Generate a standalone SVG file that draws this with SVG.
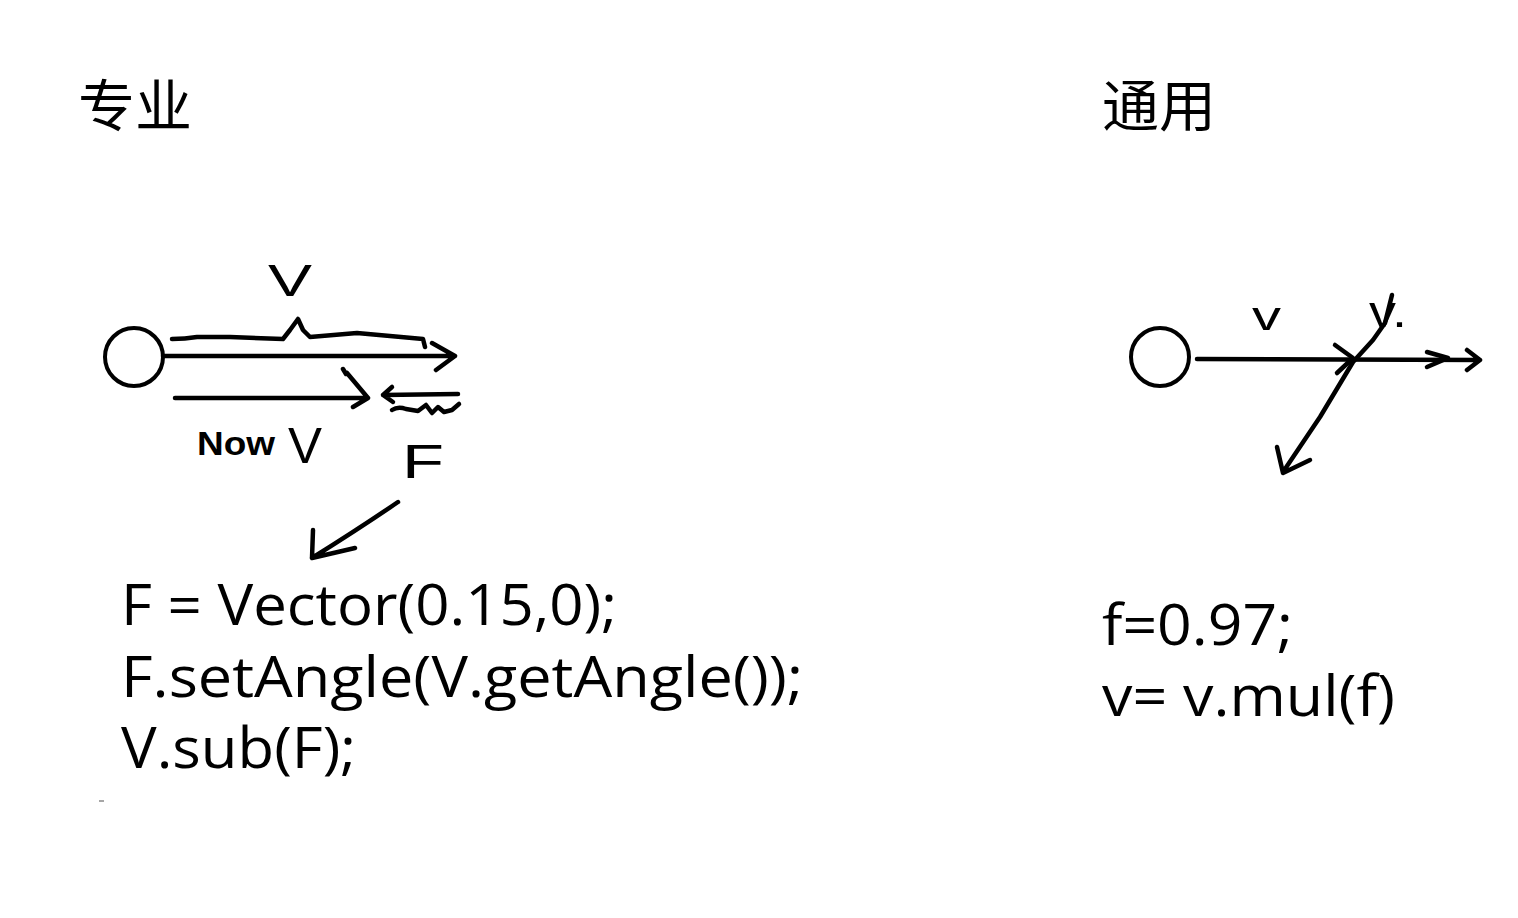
<svg xmlns="http://www.w3.org/2000/svg" width="1518" height="918" viewBox="0 0 1518 918">
<style>
.ink{fill:none;stroke:#000;stroke-width:4.5;stroke-linecap:round;stroke-linejoin:round}
.ball{fill:#fff;stroke:#000;stroke-width:4}
.title{font-family:"Noto Sans CJK SC","Noto Sans",sans-serif;font-size:56px;fill:#000}
.code{font-family:"Open Sans","Noto Sans","Liberation Sans",sans-serif;font-size:57px;font-weight:500;fill:#000}
.hand{font-family:"Liberation Sans","DejaVu Sans",sans-serif;fill:#000}
</style>
<rect width="1518" height="918" fill="#fff"/>
<g id="title-left"><text class="title" x="78" y="126" textLength="114" lengthAdjust="spacingAndGlyphs">专业</text></g>
<g id="title-right"><text class="title" x="1102" y="126" textLength="114" lengthAdjust="spacingAndGlyphs">通用</text></g>

<g id="ball-left"><circle class="ball" cx="134" cy="357" r="29"/></g>
<g id="ball-right"><circle class="ball" cx="1160" cy="357" r="29"/></g>

<g id="labels">
<text class="hand" x="268" y="296" font-size="44" textLength="44" lengthAdjust="spacingAndGlyphs">V</text>
<text class="hand" x="197" y="455" font-size="34" font-weight="bold" textLength="78" lengthAdjust="spacingAndGlyphs">Now</text>
<text class="hand" x="288" y="463" font-size="50" textLength="34" lengthAdjust="spacingAndGlyphs">V</text>
<text class="hand" x="402" y="478" font-size="48" textLength="42" lengthAdjust="spacingAndGlyphs">F</text>
<text class="hand" x="1252" y="330" font-size="40" textLength="29" lengthAdjust="spacingAndGlyphs">v</text>
<text class="hand" x="1369" y="327" font-size="44" textLength="38" lengthAdjust="spacingAndGlyphs">v.</text>
</g>

<g id="connectors">
<path class="ink" d="M163 356 L455 356 M432 343 L455 356 L436 370"/>
<path class="ink" d="M172 339 Q185 339 197 337 L230 337 L283 339 L290 330 L298 319 L303 330 L310 337 L357 333 L423 339 L425 347"/>
<path class="ink" d="M175 398 L368 398 M347 373 L368 398 L353 407 M343 369 L346 374"/>
<path class="ink" d="M458 394 L383 395 M392 387 L383 395 L393 402"/>
<path class="ink" d="M392 410 Q398 406 406 409 L418 411 L426 405 L432 413 L438 407 L444 412 L452 410 L459 404"/>
<path class="ink" d="M398 502 Q360 528 312 558 M313 530 L312 558 L355 548"/>
<path class="ink" d="M1197 359 L1480 360 M1467 350 L1480 360 L1467 370"/>
<path class="ink" d="M1335 345 L1353 358 L1337 373"/>
<path class="ink" d="M1427 352 L1448 358 L1427 367"/>
<path class="ink" d="M1392 295 L1385 323 L1373 340 L1353 362 L1320 417 L1283 472 M1277 447 L1283 473 L1310 460"/>
<path d="M99 801 L104 801" stroke="#888" stroke-width="1.5"/>
</g>

<g id="code-left">
<text class="code" x="121" y="625" textLength="496" lengthAdjust="spacingAndGlyphs">F = Vector(0.15,0);</text>
<text class="code" x="121" y="697" textLength="682" lengthAdjust="spacingAndGlyphs">F.setAngle(V.getAngle());</text>
<text class="code" x="121" y="768" textLength="235" lengthAdjust="spacingAndGlyphs">V.sub(F);</text>
</g>
<g id="code-right">
<text class="code" x="1102" y="645" textLength="191" lengthAdjust="spacingAndGlyphs">f=0.97;</text>
<text class="code" x="1102" y="716" textLength="293" lengthAdjust="spacingAndGlyphs">v= v.mul(f)</text>
</g>
</svg>
